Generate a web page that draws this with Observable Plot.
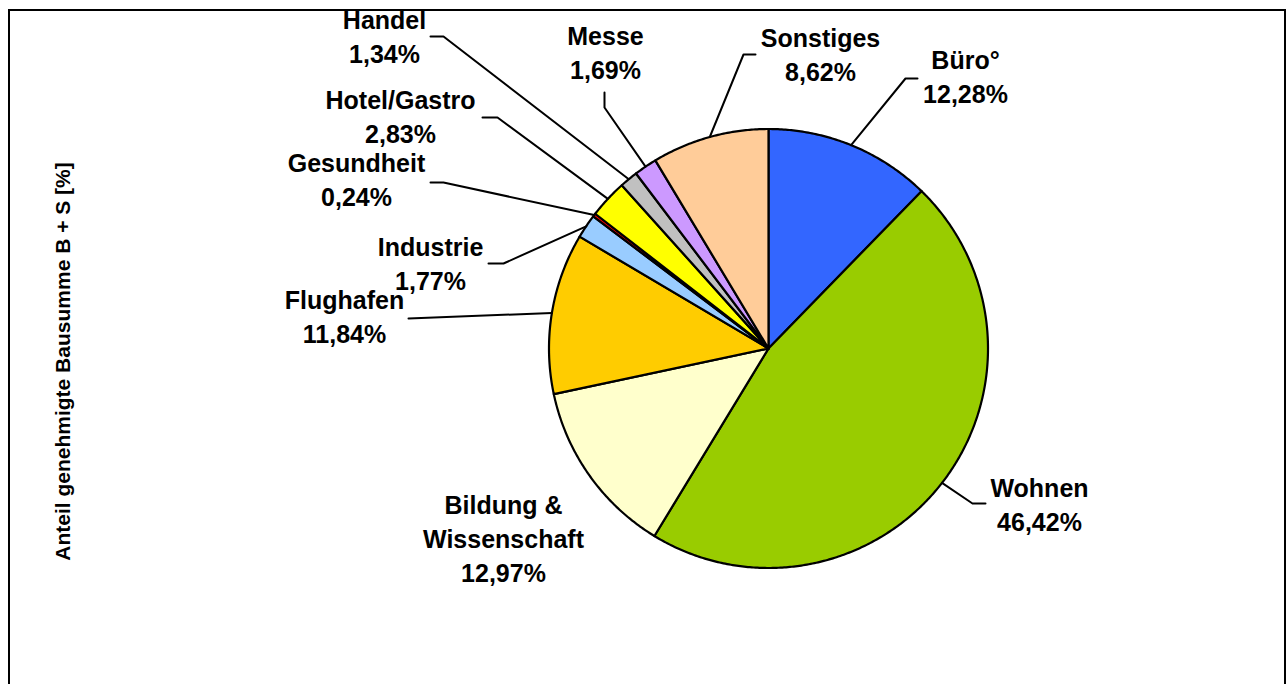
<!DOCTYPE html>
<html><head><meta charset="utf-8">
<script src="https://cdn.jsdelivr.net/npm/d3@7"></script>
<script src="https://cdn.jsdelivr.net/npm/@observablehq/plot@0.6"></script>
<style>
html,body{margin:0;padding:0;overflow:hidden;background:#fff;width:1288px;height:684px;}
#frame{position:absolute;left:8px;top:9px;width:1274px;height:800px;border:2px solid #000;pointer-events:none;}
#chart{position:absolute;left:0;top:0;}
</style></head><body>
<div id="chart"></div><div id="frame"></div>
<script>
// ---- data ----
const categories = ["Büro°","Wohnen","Bildung & Wissenschaft","Flughafen","Industrie","Gesundheit","Hotel/Gastro","Handel","Messe","Sonstiges"];
const shares = [12.28,46.42,12.97,11.84,1.77,0.24,2.83,1.34,1.69,8.62];
const colors = ["#3366FF","#99CC00","#FFFFCC","#FFCC00","#99CCFF","#FF0000","#FFFF00","#C0C0C0","#CC99FF","#FFCC99"];
const axisTitle = "Anteil genehmigte Bausumme B + S [%]";

// ---- layout (pixels) ----
const W = 1288, H = 684, cx = 768, cy = 348, R = 219.5;
// label centre x, baseline of last line; leader: [anchorX, anchorY, elbowX, elbowY]
const labelLayout = [
  {x: 965, y: 102, leader: [917, 78, 905, 78]},
  {x: 1039, y: 530, leader: [985, 503, 972, 503]},
  {x: 503, y: 581, leader: null},
  {x: 344, y: 342, leader: [408, 318, 408, 318]},
  {x: 430, y: 289, leader: [488, 263, 503, 263]},
  {x: 356, y: 205, leader: [430, 182, 443, 182]},
  {x: 400, y: 142, leader: [482, 117, 497, 117]},
  {x: 384, y: 62, leader: [430, 36, 443, 36]},
  {x: 605, y: 78, leader: [604, 92, 604, 107]},
  {x: 820, y: 80, leader: [755, 54, 743, 54]}
];

const fmt = v => d3.format(".2f")(v).replace(".", ",") + "%";
const arcs = d3.pie().sort(null).value(d => d)(shares);
const pt = (a, r) => ({x: cx + r * Math.sin(a), y: cy - r * Math.cos(a)});

const slicePts = [];
arcs.forEach((a, i) => {
  const name = categories[i], color = colors[i];
  slicePts.push({name, color, ...pt(0, 0)});
  const n = Math.max(2, Math.ceil((a.endAngle - a.startAngle) / (Math.PI / 360)));
  for (let k = 0; k <= n; k++) {
    const ang = a.startAngle + (a.endAngle - a.startAngle) * k / n;
    slicePts.push({name, color, ...pt(ang, R)});
  }
  slicePts.push({name, color, ...pt(0, 0)});
});

const leaderPts = [];
arcs.forEach((a, i) => {
  const L = labelLayout[i].leader;
  if (!L) return;
  const name = categories[i];
  const m = pt((a.startAngle + a.endAngle) / 2, R);
  leaderPts.push({name, x: L[0], y: L[1]}, {name, x: L[2], y: L[3]}, {name, x: m.x, y: m.y});
});

const labels = categories.map((c, i) => ({
  text: c.replace("& ", "&\n") + "\n" + fmt(shares[i]),
  x: labelLayout[i].x, y: labelLayout[i].y
}));

const plot = Plot.plot({
  width: W, height: H, margin: 0,
  x: {domain: [0, W], range: [0, W], axis: null},
  y: {domain: [0, H], range: [0, H], axis: null},
  color: {type: "identity"},
  style: {fontFamily: "'Liberation Sans', Arial, sans-serif", background: "#fff"},
  marks: [
    Plot.line(slicePts, {x: "x", y: "y", z: "name", fill: "color", stroke: "#000", strokeWidth: 2.2, strokeLinejoin: "round", curve: "linear"}),
    Plot.line(leaderPts, {x: "x", y: "y", z: "name", stroke: "#000", strokeWidth: 2}),
    Plot.text(labels, {x: "x", y: "y", text: "text", fontSize: 25, fontWeight: "bold", lineHeight: 1.36, lineAnchor: "bottom", textAnchor: "middle", fill: "#000"}),
    Plot.text([axisTitle], {x: () => 63, y: () => 361, text: d => d, rotate: -90, fontSize: 21, fontWeight: "bold", fill: "#000"})
  ]
});
document.getElementById("chart").appendChild(plot);
</script>
</body></html>
